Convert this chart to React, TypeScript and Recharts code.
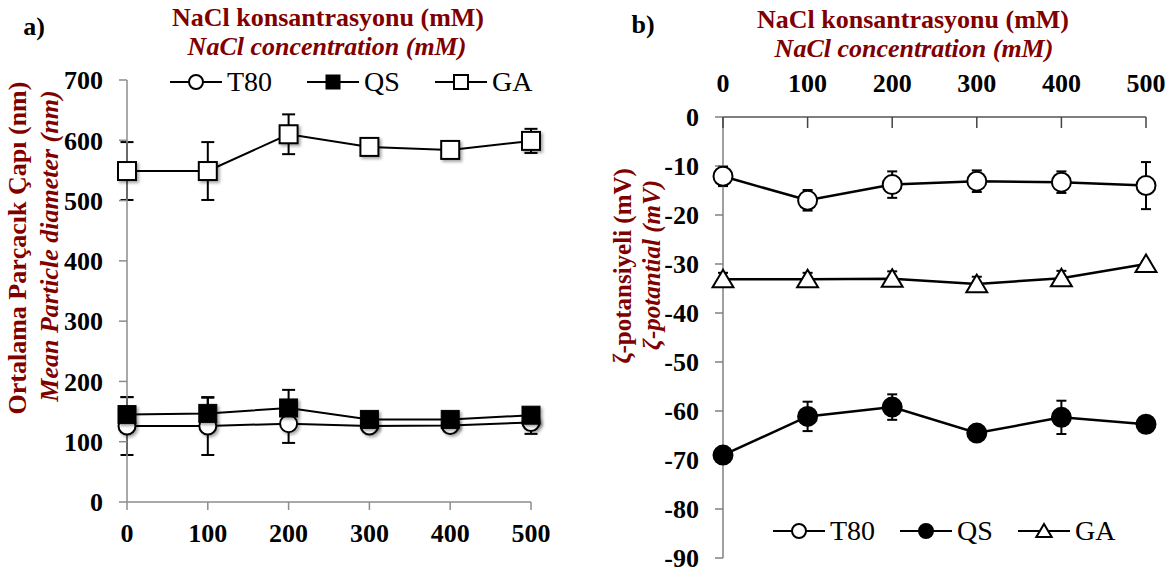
import React from 'react';
import { LineChart, Line, XAxis, YAxis, ErrorBar, Legend } from 'recharts';

// ---------- data ----------
const nacl = [0, 100, 200, 300, 400, 500];
const sizeTicks = [0, 100, 200, 300, 400, 500, 600, 700];
const zetaTicks = [0, -10, -20, -30, -40, -50, -60, -70, -80, -90];
const seriesOrder = ['T80', 'QS', 'GA'];

const sizeT80 = [126, 126, 130, 126, 127, 132];
const sizeT80Err = [48, 48, 32, 6, 6, 19];
const sizeQS = [145, 147, 156, 137, 137, 144];
const sizeQSErr = [29, 26, 30, 5, 5, 5];
const sizeGA = [549, 549, 610, 589, 584, 599];
const sizeGAErr = [48, 48, 33, 5, 5, 20];

const zetaT80 = [-12.1, -17.0, -13.8, -13.1, -13.3, -14.0];
const zetaT80Err = [2.0, 2.1, 2.7, 2.2, 2.2, 4.8];
const zetaQS = [-69.0, -61.1, -59.2, -64.5, -61.3, -62.7];
const zetaQSErr = [0.5, 3.0, 2.6, 0.5, 3.4, 0.5];
const zetaGA = [-33.1, -33.1, -33.0, -34.1, -32.9, -30.0];
const zetaGAErr = [1.3, 1.3, 1.5, 1.5, 1.5, 0.5];

const sizeData = nacl.map((x, i) => ({
  x,
  t80: sizeT80[i], t80Err: sizeT80Err[i],
  qs: sizeQS[i], qsErr: sizeQSErr[i],
  ga: sizeGA[i], gaErr: sizeGAErr[i],
}));
const zetaData = nacl.map((x, i) => ({
  x,
  t80: zetaT80[i], t80Err: zetaT80Err[i],
  qs: zetaQS[i], qsErr: zetaQSErr[i],
  ga: zetaGA[i], gaErr: zetaGAErr[i],
}));

// ---------- styles ----------
const SERIF = "'Liberation Serif', 'Times New Roman', serif";
const RED = '#800000';
const TICK_STYLE = { fill: '#000', fontSize: 26, fontWeight: 'bold', fontFamily: SERIF };

type Shape = 'circleOpen' | 'circleFilled' | 'squareOpen' | 'squareFilled' | 'triangleOpen';

function marker(shape: Shape, cx: number, cy: number, s: number, key?: string, shadow?: boolean) {
  const style = shadow ? { filter: 'drop-shadow(2px 2px 1.5px rgba(0,0,0,0.35))' } : undefined;
  let el: React.ReactNode = null;
  if (shape === 'circleOpen') el = <circle cx={cx} cy={cy} r={s} fill="#fff" stroke="#000" strokeWidth={2} />;
  if (shape === 'circleFilled') el = <circle cx={cx} cy={cy} r={s} fill="#000" stroke="#000" strokeWidth={2} />;
  if (shape === 'squareOpen') el = <rect x={cx - s} y={cy - s} width={2 * s} height={2 * s} fill="#fff" stroke="#000" strokeWidth={2} />;
  if (shape === 'squareFilled') el = <rect x={cx - s} y={cy - s} width={2 * s} height={2 * s} fill="#000" stroke="#000" strokeWidth={1} />;
  if (shape === 'triangleOpen')
    el = (
      <polygon
        points={`${cx},${cy - s} ${cx - s * 1.1},${cy + s * 0.85} ${cx + s * 1.1},${cy + s * 0.85}`}
        fill="#fff"
        stroke="#000"
        strokeWidth={2}
      />
    );
  return (
    <g key={key} style={style}>
      {el}
    </g>
  );
}

const dotFn = (shape: Shape, s: number, shadow: boolean) => (props: any) => {
  const { cx, cy, index } = props;
  if (cx == null || cy == null) return <g key={`d-${index}`} />;
  return marker(shape, cx, cy, s, `d-${shape}-${index}`, shadow);
};

const makeLegend = (gap: number, shapes: Record<string, Shape>, s: number) => (props: any) => {
  const payload = [...(props.payload || [])].sort(
    (a: any, b: any) => seriesOrder.indexOf(a.value) - seriesOrder.indexOf(b.value)
  );
  return (
    <div style={{ display: 'flex', alignItems: 'center', gap, fontFamily: SERIF, fontSize: 28, color: '#000', whiteSpace: 'nowrap' }}>
      {payload.map((e: any) => (
        <div key={e.value} style={{ display: 'flex', alignItems: 'center' }}>
          <svg width={52} height={24} style={{ display: 'block' }}>
            <line x1={0} x2={52} y1={12} y2={12} stroke="#000" strokeWidth={2} />
            {marker(shapes[e.value], 26, 12, s)}
          </svg>
          <span style={{ marginLeft: 5, lineHeight: '30px' }}>{e.value}</span>
        </div>
      ))}
    </div>
  );
};

const TopTick = (props: any) => {
  const { x, y, payload } = props;
  return (
    <g>
      <line x1={x} x2={x} y1={y} y2={y + 11} stroke="#444" strokeWidth={1.5} />
      <text x={x} y={y - 25} textAnchor="middle" fontFamily={SERIF} fontWeight="bold" fontSize={26} fill="#000">
        {payload.value}
      </text>
    </g>
  );
};

const abs = (left: number, top: number, extra: React.CSSProperties = {}): React.CSSProperties => ({
  position: 'absolute',
  left,
  top,
  transform: 'translate(-50%, -50%)',
  whiteSpace: 'nowrap',
  fontFamily: SERIF,
  ...extra,
});

export default function App() {
  return (
    <div style={{ position: 'absolute', left: 0, top: 0, width: 1176, height: 572, background: '#fff', overflow: 'hidden' }}>
      {/* Panel a */}
      <div style={{ position: 'absolute', left: 0, top: 0 }}>
        <LineChart width={590} height={572} data={sizeData} margin={{ top: 80, right: 59, bottom: 30, left: 67 }}>
          <XAxis
            dataKey="x"
            type="number"
            domain={[0, 500]}
            ticks={nacl}
            height={40}
            tickSize={8}
            tickMargin={14}
            stroke="#8c8c8c"
            strokeWidth={1.5}
            tick={TICK_STYLE}
            interval={0}
          />
          <YAxis
            type="number"
            domain={[0, 700]}
            ticks={sizeTicks}
            width={60}
            tickSize={8}
            tickMargin={16}
            stroke="#8c8c8c"
            strokeWidth={1.5}
            tick={TICK_STYLE}
            interval={0}
          />
          <Legend
            layout="horizontal"
            verticalAlign="middle"
            align="center"
            itemSorter={null as any}
            wrapperStyle={{ left: 170, top: 67, width: 'auto' }}
            content={makeLegend(35, { T80: 'circleOpen', QS: 'squareFilled', GA: 'squareOpen' }, 7)}
          />
          <Line name="T80" dataKey="t80" stroke="#000" strokeWidth={2} isAnimationActive={false} dot={dotFn('circleOpen', 8.5, true)} activeDot={false}>
            <ErrorBar dataKey="t80Err" width={6.5} stroke="#000" strokeWidth={2} />
          </Line>
          <Line name="QS" dataKey="qs" stroke="#000" strokeWidth={2} isAnimationActive={false} dot={dotFn('squareFilled', 9, true)} activeDot={false}>
            <ErrorBar dataKey="qsErr" width={6.5} stroke="#000" strokeWidth={2} />
          </Line>
          <Line name="GA" dataKey="ga" stroke="#000" strokeWidth={2} isAnimationActive={false} dot={dotFn('squareOpen', 9, true)} activeDot={false}>
            <ErrorBar dataKey="gaErr" width={6.5} stroke="#000" strokeWidth={2} />
          </Line>
        </LineChart>
      </div>

      {/* Panel b */}
      <div style={{ position: 'absolute', left: 590, top: 0 }}>
        <LineChart width={586} height={572} data={zetaData} margin={{ top: 77, right: 30, bottom: 14, left: 73 }}>
          <XAxis
            dataKey="x"
            type="number"
            orientation="top"
            domain={[0, 500]}
            ticks={nacl}
            height={40}
            tickSize={0}
            tickMargin={0}
            tickLine={false}
            stroke="#555"
            strokeWidth={1.5}
            tick={<TopTick />}
            interval={0}
          />
          <YAxis
            type="number"
            domain={[-90, 0]}
            ticks={zetaTicks}
            width={60}
            tickSize={8}
            tickMargin={16}
            stroke="#808080"
            strokeWidth={1.5}
            tick={TICK_STYLE}
            interval={0}
          />
          <Legend
            layout="horizontal"
            verticalAlign="middle"
            align="center"
            itemSorter={null as any}
            wrapperStyle={{ left: 183, top: 516, width: 'auto' }}
            content={makeLegend(25, { T80: 'circleOpen', QS: 'circleFilled', GA: 'triangleOpen' }, 7)}
          />
          <Line name="T80" dataKey="t80" stroke="#000" strokeWidth={2.5} isAnimationActive={false} dot={dotFn('circleOpen', 9.5, false)} activeDot={false}>
            <ErrorBar dataKey="t80Err" width={5} stroke="#000" strokeWidth={2} />
          </Line>
          <Line name="QS" dataKey="qs" stroke="#000" strokeWidth={2.5} isAnimationActive={false} dot={dotFn('circleFilled', 9.5, false)} activeDot={false}>
            <ErrorBar dataKey="qsErr" width={5} stroke="#000" strokeWidth={2} />
          </Line>
          <Line name="GA" dataKey="ga" stroke="#000" strokeWidth={2.5} isAnimationActive={false} dot={dotFn('triangleOpen', 9.5, false)} activeDot={false}>
            <ErrorBar dataKey="gaErr" width={5} stroke="#000" strokeWidth={2} />
          </Line>
        </LineChart>
      </div>

      {/* Text overlays */}
      <div style={abs(34, 27, { fontSize: 26, fontWeight: 'bold', color: '#000' })}>a)</div>
      <div style={abs(643, 25, { fontSize: 26, fontWeight: 'bold', color: '#000' })}>b)</div>

      <div style={abs(328, 18, { fontSize: 26, fontWeight: 'bold', color: RED })}>NaCl konsantrasyonu (mM)</div>
      <div style={abs(327, 47, { fontSize: 26, fontWeight: 'bold', fontStyle: 'italic', color: RED })}>NaCl concentration (mM)</div>
      <div style={abs(913, 20, { fontSize: 26, fontWeight: 'bold', color: RED })}>NaCl konsantrasyonu (mM)</div>
      <div style={abs(914, 49, { fontSize: 26, fontWeight: 'bold', fontStyle: 'italic', color: RED })}>NaCl concentration (mM)</div>

      <div style={abs(18, 248, { fontSize: 26, fontWeight: 'bold', color: RED, transform: 'translate(-50%, -50%) rotate(-90deg)' })}>
        Ortalama Parçacık Çapı (nm)
      </div>
      <div style={abs(50, 246, { fontSize: 26, fontWeight: 'bold', fontStyle: 'italic', color: RED, transform: 'translate(-50%, -50%) rotate(-90deg)' })}>
        Mean Particle diameter (nm)
      </div>
      <div style={abs(623, 266, { fontSize: 25, fontWeight: 'bold', color: RED, transform: 'translate(-50%, -50%) rotate(-90deg)' })}>
        ζ-potansiyeli (mV)
      </div>
      <div style={abs(652, 265, { fontSize: 25, fontWeight: 'bold', fontStyle: 'italic', color: RED, transform: 'translate(-50%, -50%) rotate(-90deg)' })}>
        ζ-potantial (mV)
      </div>
    </div>
  );
}
